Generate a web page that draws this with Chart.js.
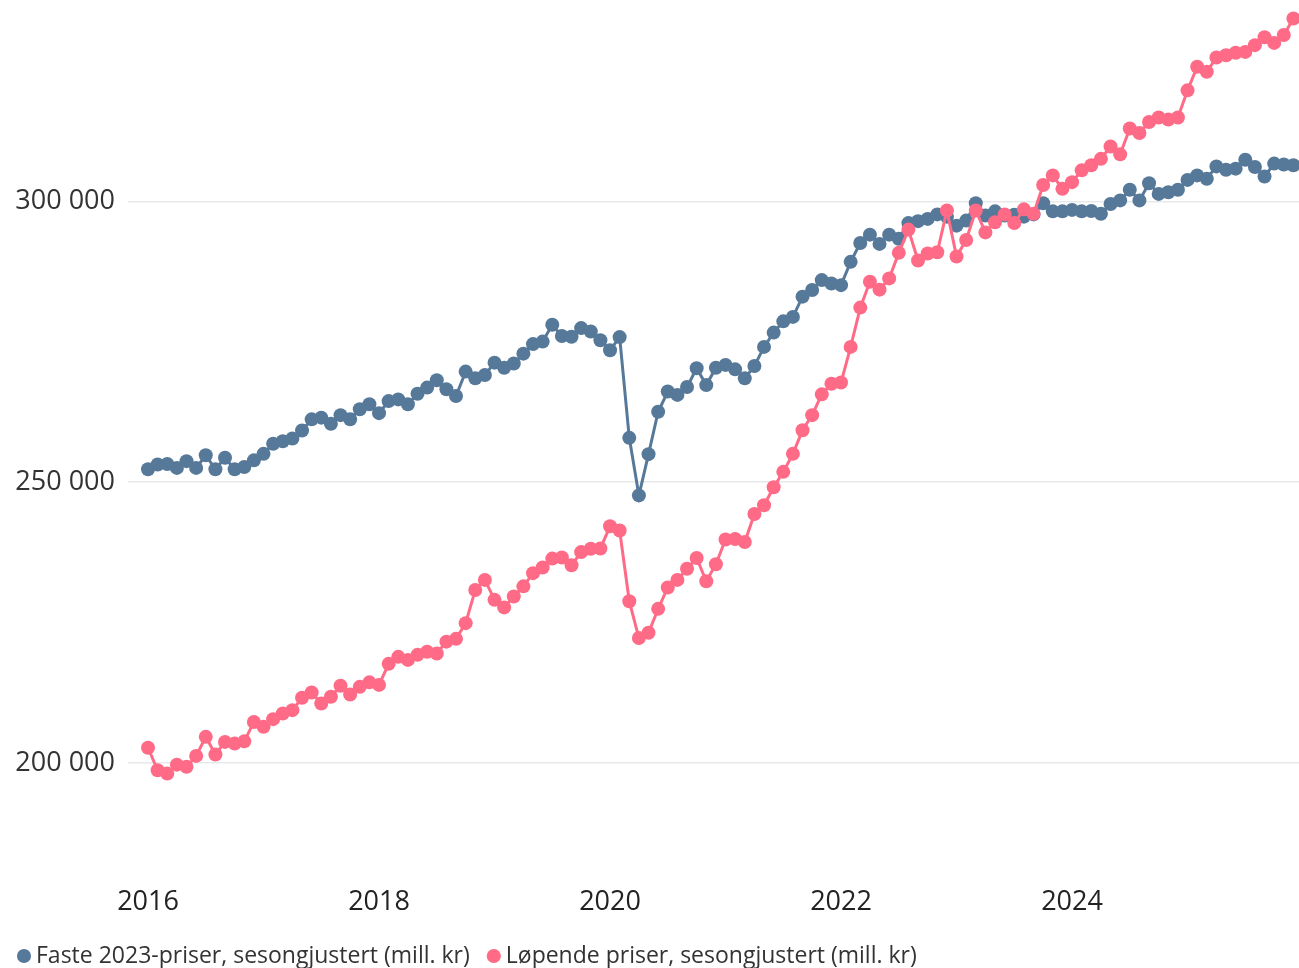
<!DOCTYPE html>
<html>
<head>
<meta charset="utf-8">
<script src="https://cdn.jsdelivr.net/npm/chart.js@4.4.1/dist/chart.umd.min.js"></script>
<style>
  html, body { margin: 0; padding: 0; background: #ffffff; }
  #wrap { width: 1299px; height: 968px; }
</style>
</head>
<body>
<div id="wrap"><canvas id="chart" width="1299" height="968"></canvas></div>
<script>
// Monthly series, January 2016 – December 2025 (mill. kr, seasonally adjusted)
const fastePriser = [
  252300, 253150, 253250, 252550, 253750, 252550, 254800, 252300, 254350, 252300, 252700, 253900,
  255050, 256850, 257300, 257800, 259200, 261200, 261500, 260400, 261950, 261200, 263000, 263900,
  262300, 264450, 264750, 263900, 265750, 266850, 268150, 266550, 265350, 269700, 268500, 269100,
  271300, 270400, 271150, 272900, 274600, 275050, 278050, 276050, 275900, 277450, 276850, 275300,
  273500, 275850, 257900, 247650, 255000, 262550, 266150, 265550, 266950, 270300, 267300, 270400,
  270900, 270100, 268500, 270700, 274100, 276650, 278650, 279450, 283050, 284250, 286000, 285400,
  285100, 289250, 292600, 294100, 292450, 294100, 293350, 296150, 296500, 296900, 297700, 297300,
  295700, 296600, 299700, 297500, 298250, 297500, 297650, 297300, 297700, 299700, 298250, 298250,
  298500, 298250, 298300, 297800, 299550, 300200, 302100, 300200, 303250, 301350, 301650, 302100,
  303850, 304650, 304050, 306250, 305650, 305850, 307450, 306150, 304450, 306750, 306600, 306450
];

const lopendePriser = [
  202700, 198700, 198100, 199700, 199300, 201250, 204650, 201500, 203750, 203450, 203850, 207300,
  206450, 207800, 208800, 209400, 211600, 212550, 210600, 211800, 213750, 212200, 213550, 214350,
  213900, 217650, 218900, 218350, 219250, 219800, 219500, 221600, 222100, 224900, 230800, 232600,
  229050, 227700, 229650, 231450, 233800, 234800, 236400, 236600, 235200, 237550, 238150, 238200,
  242150, 241400, 228800, 222250, 223200, 227450, 231250, 232600, 234600, 236500, 232350, 235400,
  239800, 239900, 239350, 244350, 245900, 249100, 251850, 255050, 259250, 261950, 265650, 267550,
  267750, 274100, 281100, 285700, 284300, 286300, 290850, 295000, 289500, 290750, 290950, 298400,
  290200, 293150, 298400, 294500, 296300, 297700, 296150, 298600, 297800, 302950, 304650, 302250,
  303450, 305550, 306450, 307600, 309800, 308400, 313000, 312200, 314150, 314950, 314600, 314950,
  319800, 324000, 323100, 325650, 326050, 326500, 326650, 327850, 329250, 328250, 329650, 332600
];

// Month indices (0 = Jan 2016) carrying a year label, and the labels themselves
const yearTickMonths = [0, 24, 48, 72, 96];
const yearTickLabels = ['2016', '2018', '2020', '2022', '2024'];

// Value axis ticks
const valueTicks = [200000, 250000, 300000];

const seriesNames = [
  'Faste 2023-priser, sesongjustert (mill. kr)',
  'Løpende priser, sesongjustert (mill. kr)'
];

const BLUE = 'rgb(87, 121, 153)';
const PINK = 'rgb(255, 107, 134)';

const toPoints = (values) => values.map((v, i) => ({ x: i, y: v }));

const lineStyle = (color) => ({
  borderColor: color,
  backgroundColor: color,
  pointBackgroundColor: color,
  pointBorderColor: color,
  borderWidth: 3,
  pointRadius: 7,
  pointBorderWidth: 0,
  pointHoverRadius: 7,
  tension: 0,
  fill: false,
  clip: false
});

const spaced = (n) => String(n).replace(/\B(?=(\d{3})+(?!\d))/g, ' ');

// keep the plot area edge-to-edge: no extra room reserved for edge labels
const noEdgePadding = (axis) => {
  axis.paddingTop = 0;
  axis.paddingBottom = 0;
  axis.paddingLeft = 0;
  axis.paddingRight = 0;
};

new Chart(document.getElementById('chart'), {
  type: 'line',
  data: {
    // current prices listed first so they are drawn over the fixed-price line
    datasets: [
      Object.assign({ label: seriesNames[1], data: toPoints(lopendePriser) }, lineStyle(PINK)),
      Object.assign({ label: seriesNames[0], data: toPoints(fastePriser) }, lineStyle(BLUE))
    ]
  },
  options: {
    responsive: false,
    animation: false,
    devicePixelRatio: 1,
    layout: { autoPadding: false, padding: { left: 0, top: 5, right: 0, bottom: -9.5 } },
    plugins: {
      tooltip: { enabled: false },
      legend: {
        position: 'bottom',
        align: 'start',
        reverse: true,
        labels: {
          usePointStyle: true,
          pointStyle: 'circle',
          boxWidth: 1,
          boxHeight: 10,
          padding: 23.5,
          color: '#333333',
          font: { family: 'Open Sans', size: 23 }
        }
      }
    },
    scales: {
      x: {
        type: 'linear',
        min: -2.08,
        max: 119.58,
        grid: { display: false },
        border: { display: false },
        afterBuildTicks: (axis) => {
          axis.ticks = yearTickMonths.map((m) => ({ value: m }));
        },
        afterFit: (axis) => { axis.height = 57; noEdgePadding(axis); },
        ticks: {
          autoSkip: false,
          maxRotation: 0,
          padding: 14,
          color: '#222222',
          font: { family: 'Open Sans', size: 27 },
          callback: (value) => {
            const idx = yearTickMonths.indexOf(value);
            return idx >= 0 ? yearTickLabels[idx] : '';
          }
        }
      },
      y: {
        min: 182000,
        max: 335000,
        grid: { color: '#e6e9ec', lineWidth: 1.5, drawTicks: false },
        border: { display: false },
        afterBuildTicks: (axis) => {
          axis.ticks = valueTicks.map((v) => ({ value: v }));
        },
        afterFit: (axis) => { axis.width = 128; noEdgePadding(axis); },
        ticks: {
          padding: 13,
          color: '#333333',
          font: { family: 'Open Sans', size: 27 },
          callback: (value) => spaced(value)
        }
      }
    }
  }
});
</script>
</body>
</html>
